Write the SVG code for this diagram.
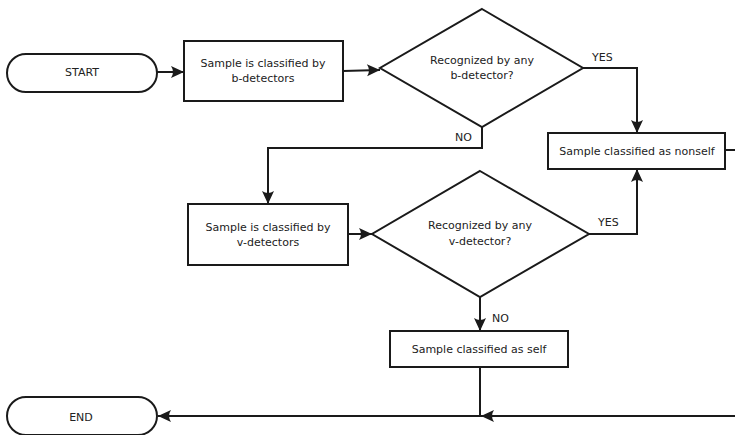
<svg xmlns="http://www.w3.org/2000/svg" width="735" height="435" viewBox="0 0 735 435">
<defs>
<style>
.shape{fill:#fff;stroke:#1a1a1a;stroke-width:2}
.con{fill:none;stroke:#1a1a1a;stroke-width:2}
text{font-family:"DejaVu Sans","Noto Sans",sans-serif;font-size:11px;fill:#222;text-anchor:middle}
.lbl{text-anchor:start}
</style>
<marker id="ah" markerUnits="userSpaceOnUse" markerWidth="16" markerHeight="14" viewBox="-14 -7 16 14" refX="0" refY="0" orient="auto">
<path d="M0,0 L-13,-6 Q-9,0 -13,6 Z" fill="#1a1a1a"/>
</marker>
</defs>
<g id="connectors">
<path class="con" d="M157,72 L184,72" marker-end="url(#ah)"/>
<path class="con" d="M343,71 L380,70" marker-end="url(#ah)"/>
<path class="con" d="M583,68 H637 V133" marker-end="url(#ah)"/>
<path class="con" d="M482,127 V148 H268 V204" marker-end="url(#ah)"/>
<path class="con" d="M348,234 L372,234" marker-end="url(#ah)"/>
<path class="con" d="M589,234 H637 V169" marker-end="url(#ah)"/>
<path class="con" d="M480,297 V331" marker-end="url(#ah)"/>
<path class="con" d="M480,367 V416 H158" marker-end="url(#ah)"/>
<path class="con" d="M725,150 H745 V416 H481" marker-end="url(#ah)"/>
</g>
<g id="start">
<rect class="shape" x="7" y="54" width="150" height="38" rx="19" ry="19"/>
<text x="82" y="76">START</text>
</g>
<g id="box1">
<rect class="shape" x="184" y="41" width="159" height="60"/>
<text x="263" y="67">Sample is classified by</text>
<text x="263" y="82">b-detectors</text>
</g>
<g id="decision1">
<polygon class="shape" points="482,9 583,68 482,127 380,68"/>
<text x="482" y="64">Recognized by any</text>
<text x="482" y="79">b-detector?</text>
</g>
<g id="nonself">
<rect class="shape" x="548" y="133" width="177" height="36"/>
<text x="637" y="155">Sample classified as nonself</text>
</g>
<g id="box2">
<rect class="shape" x="188" y="204" width="160" height="61"/>
<text x="268" y="231">Sample is classified by</text>
<text x="268" y="246">v-detectors</text>
</g>
<g id="decision2">
<polygon class="shape" points="480,171 589,234 480,297 372,234"/>
<text x="480" y="229">Recognized by any</text>
<text x="480" y="245">v-detector?</text>
</g>
<g id="self">
<rect class="shape" x="390" y="331" width="178" height="36"/>
<text x="479" y="353">Sample classified as self</text>
</g>
<g id="end">
<rect class="shape" x="7" y="397" width="150" height="38" rx="19" ry="19"/>
<text x="81" y="421">END</text>
</g>
<g id="labels">
<text class="lbl" x="592" y="61">YES</text>
<text class="lbl" x="455" y="141">NO</text>
<text class="lbl" x="598" y="226">YES</text>
<text class="lbl" x="492" y="322">NO</text>
</g>
</svg>
